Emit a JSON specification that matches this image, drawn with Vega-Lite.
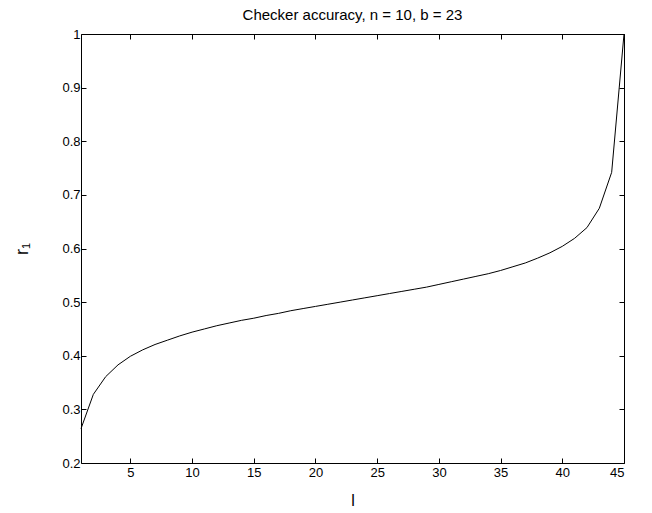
{
  "$schema": "https://vega.github.io/schema/vega-lite/v6.json",
  "width": 543,
  "height": 429,
  "autosize": "none",
  "padding": {"left": 81, "top": 34, "right": 28, "bottom": 50},
  "background": "white",
  "config": {
    "font": "Liberation Sans",
    "view": {"stroke": "black", "strokeWidth": 1},
    "axis": {"grid": false, "domain": false, "ticks": true, "tickColor": "black", "tickSize": -5, "tickWidth": 1, "labelFont": "Liberation Sans", "labelFontSize": 13, "labelColor": "black", "titleFont": "Liberation Sans", "titleFontWeight": "normal", "titleColor": "#000000", "titleFontSize": 16}
  },
  "title": {"text": "Checker accuracy, n = 10, b = 23", "font": "Liberation Sans", "fontSize": 15, "fontWeight": "normal", "color": "black", "offset": 5},
  "data": {"values": [
    {"l": 1, "r1": 0.264}, {"l": 2, "r1": 0.328}, {"l": 3, "r1": 0.361}, {"l": 4, "r1": 0.383},
    {"l": 5, "r1": 0.399}, {"l": 6, "r1": 0.411}, {"l": 7, "r1": 0.421}, {"l": 8, "r1": 0.429},
    {"l": 9, "r1": 0.437}, {"l": 10, "r1": 0.444}, {"l": 11, "r1": 0.450}, {"l": 12, "r1": 0.456},
    {"l": 13, "r1": 0.461}, {"l": 14, "r1": 0.466}, {"l": 15, "r1": 0.470}, {"l": 16, "r1": 0.475},
    {"l": 17, "r1": 0.479}, {"l": 18, "r1": 0.484}, {"l": 19, "r1": 0.488}, {"l": 20, "r1": 0.492},
    {"l": 21, "r1": 0.496}, {"l": 22, "r1": 0.500}, {"l": 23, "r1": 0.504}, {"l": 24, "r1": 0.508},
    {"l": 25, "r1": 0.512}, {"l": 26, "r1": 0.516}, {"l": 27, "r1": 0.520}, {"l": 28, "r1": 0.524},
    {"l": 29, "r1": 0.528}, {"l": 30, "r1": 0.533}, {"l": 31, "r1": 0.538}, {"l": 32, "r1": 0.543},
    {"l": 33, "r1": 0.548}, {"l": 34, "r1": 0.553}, {"l": 35, "r1": 0.559}, {"l": 36, "r1": 0.566},
    {"l": 37, "r1": 0.573}, {"l": 38, "r1": 0.582}, {"l": 39, "r1": 0.592}, {"l": 40, "r1": 0.604},
    {"l": 41, "r1": 0.619}, {"l": 42, "r1": 0.639}, {"l": 43, "r1": 0.675}, {"l": 44, "r1": 0.742},
    {"l": 45, "r1": 1.0}
  ]},
  "layer": [
    {
      "mark": {"type": "line", "color": "black", "strokeWidth": 1},
      "encoding": {
        "x": {"field": "l", "type": "quantitative", "scale": {"domain": [1, 45], "nice": false, "zero": false},
              "axis": {"orient": "bottom", "title": "l", "titleColor": "#000000", "values": [5, 10, 15, 20, 25, 30, 35, 40, 45], "labelPadding": 8, "titlePadding": 13}},
        "y": {"field": "r1", "type": "quantitative", "scale": {"domain": [0.2, 1], "nice": false, "zero": false},
              "axis": {"orient": "left", "title": "r₁", "titleColor": "#000000", "titleFontSize": 18, "values": [0.2, 0.3, 0.4, 0.5, 0.6, 0.7, 0.8, 0.9, 1], "format": ".1~f", "labelPadding": 6, "titlePadding": 30}}
      }
    },
    {
      "mark": {"type": "line", "opacity": 0},
      "encoding": {
        "x": {"field": "l", "type": "quantitative", "axis": {"orient": "top", "title": null, "labels": false, "values": [5, 10, 15, 20, 25, 30, 35, 40, 45]}},
        "y": {"field": "r1", "type": "quantitative", "axis": {"orient": "right", "title": null, "labels": false, "values": [0.2, 0.3, 0.4, 0.5, 0.6, 0.7, 0.8, 0.9, 1]}}
      }
    }
  ],
  "resolve": {"axis": {"x": "independent", "y": "independent"}}
}
